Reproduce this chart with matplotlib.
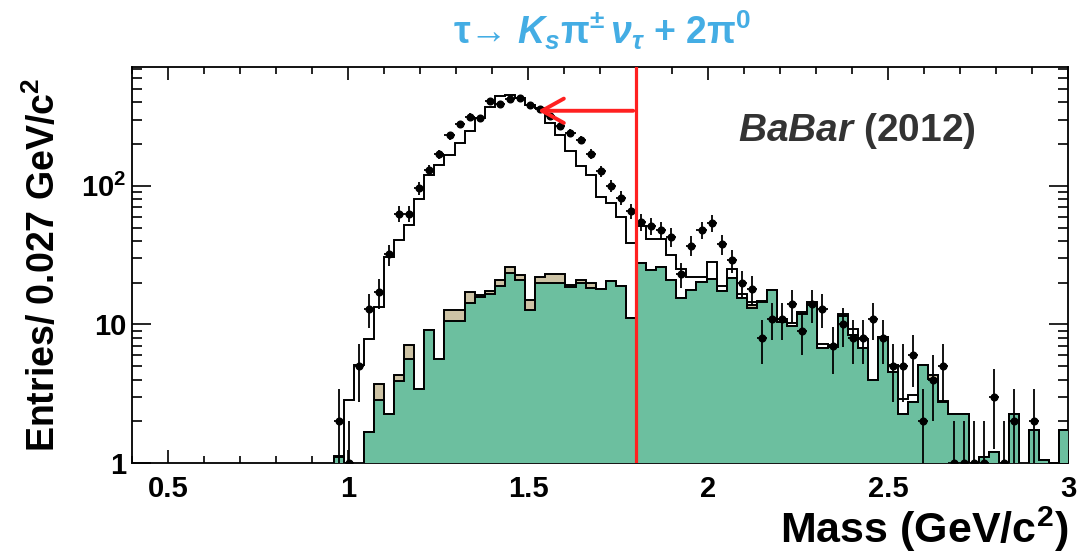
#Plot tau -> Ks pi nu + 2pi0 mass spectrum (BaBar style)

import numpy as np
import matplotlib.pyplot as plt
from matplotlib.ticker import MultipleLocator, FixedLocator, LogLocator, NullFormatter

#_________INPUT data_______
bin_lo = 0.96
bin_w = 0.028
cut = 1.8
arrow_end = 1.52
arrow_level = 348

# total MC (white + tan + green)
mc_total = [1.13, 2.83, 5.07, 7.9, 13.4, 30.8, 40.6, 52, 81, 120,
            142, 167, 205, 249, 308, 370, 445, 449, 430, 384,
            364, 284, 233, 177, 138, 120, 83.5, 74.8, 59.9, 38.5,
            51, 41, 41, 31.6, 24.9, 21.8, 21.8, 28.2, 19, 24.9,
            16.5, 14.5, 14.8, 17.8, 11.0, 10.2, 12.3, 14.1, 7.27, 7.1,
            11.8, 9.3, 7.9, 3.95, 8.1, 5.1, 2.9, 3.1, 5.07, 4.3,
            2.8, 2.27, 2.27, 0, 1.1, 1.2, 0, 2.27, 0, 1.72,
            1.05, 0, 1.72]
# green component
green = [1.11, 0, 0, 1.67, 2.83, 2.24, 3.9, 5.67, 3.44, 9.08,
         5.67, 10.6, 10.6, 14.3, 15.8, 16.7, 18.9, 23.6, 20.9, 12.7,
         19.8, 19.8, 19.8, 18.7, 19.8, 18.4, 17.9, 20.6, 18.9, 11.2,
         27.6, 24.7, 26.1, 20.9, 15.4, 17.8, 20.1, 21.3, 17.4, 21.5,
         15.6, 13.1, 14.5, 17.8, 10.4, 9.8, 11.8, 13.9, 6.7, 6.88,
         11.5, 8.35, 6.7, 3.95, 8.12, 4.53, 2.27, 2.75, 5.07, 4.05,
         2.75, 2.27, 2.27, 0, 1.1, 1.2, 0, 2.27, 0, 1.72,
         1.05, 0, 1.72]
# tan component stacked on green
tan = [0, 0, 0, 0, 0.87, 0, 0.4, 1.4, 0, 0,
       0, 2.1, 2.1, 2.9, 0.5, 0.7, 2.0, 2.2, 1.8, 2.4,
       2.2, 3.3, 3.3, 0.6, 1.1, 1.5, 0, 0, 0, 0,
       0, 0, 0, 0, 0, 0, 0, 0, 0, 0,
       0, 0.7, 0, 0, 0, 0, 0, 0.6, 0, 0,
       0, 0, 0, 0, 0, 0, 0, 0, 0, 0.25,
       0, 0, 0, 0, 0, 0, 0, 0, 0, 0,
       0, 0, 0]
# data entries
data = [2, 1, 5, 13, 17, 32, 63, 63, 96, 130,
        169, 231, 279, 316, 308, 406, 391, 420, 428, 380,
        360, 320, 272, 242, 214, 170, 127, 100, 82, 66,
        55, 51, 48, 43, 23, 37, 48, 54, 38, 29,
        20, 18, 8, 11, 11, 14, 9, 14, 13, 7,
        10, 8, 8, 11, 8, 5, 5, 6, 2, 4,
        5, 1, 1, 1, 1, 3, 1, 2, 0, 2,
        0, 0, 0]

#_________Figure Style_______________________
plt.rcParams["font.family"] = ["Liberation Sans", "DejaVu Sans"]
plt.rcParams["font.weight"] = "bold"
plt.rcParams["mathtext.fontset"] = "custom"
plt.rcParams["mathtext.rm"] = "Liberation Sans:bold"
plt.rcParams["mathtext.it"] = "Liberation Sans:italic:bold"
plt.rcParams["mathtext.bf"] = "Liberation Sans:bold"

c_green = "#6cbf9f"
c_tan = "#cdc3a5"
c_title = "#44ade4"

fig = plt.figure(figsize=(10.89, 5.58), dpi=100)
ax = fig.add_axes([0.1212, 0.1703, 0.8595, 0.7096])

mc_total = np.array(mc_total, float)
green = np.array(green, float)
tan = np.array(tan, float)
data = np.array(data, float)
edges = bin_lo + bin_w * np.arange(len(mc_total) + 1)
centers = 0.5 * (edges[:-1] + edges[1:])

floor = 0.1
ax.stairs(np.clip(mc_total, floor, None), edges, baseline=floor, fill=True,
          facecolor="white", edgecolor="black", lw=1.4, zorder=1)
ax.stairs(np.clip(green + tan, floor, None), edges, baseline=floor, fill=True,
          facecolor=c_tan, edgecolor="black", lw=1.4, zorder=2)
ax.stairs(np.clip(green, floor, None), edges, baseline=floor, fill=True,
          facecolor=c_green, edgecolor="black", lw=1.4, zorder=3)

#data points
m = data > 0
err = np.sqrt(data[m])
err_lo = np.minimum(err, data[m] * 0.99)
ax.errorbar(centers[m], data[m], xerr=bin_w / 2, yerr=[err_lo, err], fmt="o",
            color="black", ms=4.8, elinewidth=1.3, capsize=0, zorder=5)

#cut line + arrow
ax.axvline(cut, color="#ff2020", lw=2.3, zorder=6)
ax.annotate("", xy=(arrow_end, arrow_level), xytext=(cut, arrow_level),
            arrowprops=dict(arrowstyle="->,head_length=0.45,head_width=0.25",
                            color="#ff2020", lw=2.8, mutation_scale=35),
            zorder=6)

ax.set_yscale("log")
ax.set_xlim(0.4, 3.0)
ax.set_ylim(1, 720)

ax.xaxis.set_major_locator(FixedLocator([0.5, 1.0, 1.5, 2.0, 2.5, 3.0]))
ax.set_xticklabels(["0.5", "1", "1.5", "2", "2.5", "3"])
ax.xaxis.set_minor_locator(MultipleLocator(0.1))
ax.yaxis.set_major_locator(FixedLocator([1, 10, 100]))
ax.set_yticklabels(["1", "10", "10$^2$"])
ax.yaxis.set_minor_locator(LogLocator(base=10, subs=np.arange(2, 10)))
ax.yaxis.set_minor_formatter(NullFormatter())

ax.tick_params(which="both", direction="in", top=True, right=True, width=1.2)
ax.tick_params(axis="x", which="major", length=9.5, labelsize=21, pad=9)
ax.tick_params(axis="x", which="minor", length=5)
ax.tick_params(axis="y", which="major", length=14, labelsize=21, pad=4)
ax.tick_params(axis="y", which="minor", length=7)
for s in ax.spines.values():
    s.set_linewidth(1.3)

fig.text(0.040, 0.525, "Entries/ 0.027 GeV/c$^2$", rotation=90, ha="center",
         va="center", fontsize=27, fontweight="bold")
fig.text(0.981, 0.052, "Mass (GeV/c$^2$)", ha="right", va="center",
         fontsize=31, fontweight="bold")
fig.text(0.553, 0.946, "τ→ $K_s$π$^{\\pm}$$\\,\\nu_\\tau$ + 2π$^0$", ha="center",
         va="center", fontsize=27, fontweight="bold", color=c_title)
fig.text(0.678, 0.765, "$BaBar$ (2012)", ha="left", va="center",
         fontsize=28, fontweight="bold", color="#333333")

fig.savefig("out.png", dpi=100)
